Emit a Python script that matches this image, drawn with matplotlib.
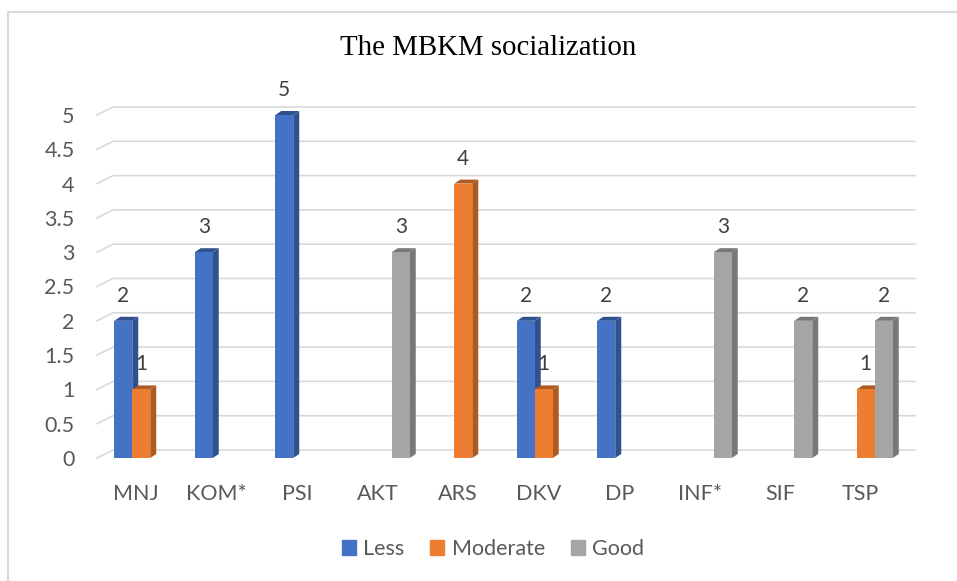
import matplotlib.pyplot as plt
from matplotlib.patches import Polygon, Patch
from matplotlib.lines import Line2D
import matplotlib.transforms as mtransforms

# data
categories = ['MNJ', 'KOM*', 'PSI', 'AKT', 'ARS', 'DKV', 'DP', 'INF*', 'SIF', 'TSP']
less = [2, 3, 5, 0, 0, 2, 2, 0, 0, 0]
moderate = [1, 0, 0, 0, 4, 1, 0, 0, 0, 1]
good = [0, 0, 0, 3, 0, 0, 0, 3, 2, 2]

series = [('Less', less, '#4472C4', '#2F528F'),
          ('Moderate', moderate, '#ED7D31', '#AE5A21'),
          ('Good', good, '#A5A5A5', '#787878')]

W, H = 957, 581
fig = plt.figure(figsize=(W / 100, H / 100), dpi=100)
plt.rcParams['font.family'] = ['Lato', 'DejaVu Sans']

# plot area (front plane) in pixels
left_px, right_px, bot_px, top_px = 101, 906, 458, 115
ax = fig.add_axes([left_px / W, 1 - bot_px / H, (right_px - left_px) / W, (bot_px - top_px) / H])
ax.set_xlim(-0.5, len(categories) - 0.5)
ax.set_ylim(0, 5)
for s in ax.spines.values():
    s.set_visible(False)

px_x = (len(categories)) / (right_px - left_px)   # data units per pixel in x
px_y = 5 / (bot_px - top_px)

# back wall gridlines with short floor/side diagonals
gdx, gdy = 16 * px_x, 8 * px_y
x_front = -0.5 - 4 * px_x
x_end = -0.5 + 814 * px_x
for k in range(11):
    v = k * 0.5
    ax.add_line(Line2D([x_front, x_front + gdx, x_end], [v, v + gdy, v + gdy],
                       color='#d9d9d9', lw=1.2, clip_on=False, zorder=1))

bw = 18 * px_x
ddx, ddy = 6 * px_x, 4 * px_y
z = 2
for i in range(len(categories)):
    for j, (name, vals, col, dark) in enumerate(series):
        v = vals[i]
        if v <= 0:
            continue
        xc = i + (j - 1) * bw
        x0, x1 = xc - bw / 2, xc + bw / 2
        ax.add_patch(Polygon([(x1, 0), (x1 + ddx, ddy), (x1 + ddx, v + ddy), (x1, v)],
                             closed=True, fc=dark, ec='none', zorder=z, clip_on=False))
        ax.add_patch(Polygon([(x0, v), (x0 + ddx, v + ddy), (x1 + ddx, v + ddy), (x1, v)],
                             closed=True, fc=dark, ec='none', zorder=z, clip_on=False))
        ax.bar(xc, v, width=bw, color=col, zorder=z + 0.5, clip_on=False)
        ax.annotate(str(v), (xc, v), xytext=(0, 18), textcoords='offset points',
                    ha='center', va='center', fontsize=15, color='#404040', zorder=10)
        z += 1

ax.set_xticks(range(len(categories)))
ax.set_xticklabels(categories)
ax.set_yticks([k * 0.5 for k in range(11)])
ax.set_yticklabels(['0', '0.5', '1', '1.5', '2', '2.5', '3', '3.5', '4', '4.5', '5'])
ax.tick_params(axis='x', length=0, pad=19, labelsize=15.5, labelcolor='#595959')
ax.tick_params(axis='y', length=0, pad=19, labelsize=15.5, labelcolor='#595959')
shift = mtransforms.ScaledTranslation(-5 / 100, 0, fig.dpi_scale_trans)
for lab in ax.get_xticklabels():
    lab.set_transform(lab.get_transform() + shift)

fig.text(488 / W, 1 - 48 / H, 'The MBKM socialization', ha='center', va='center',
         fontsize=20.8, family='Liberation Serif', color='black')

handles = [Patch(color=c, label=n) for n, _, c, _ in series]
fig.legend(handles=handles, loc='center', bbox_to_anchor=(493 / W, 1 - 549 / H), ncol=3,
           frameon=False, fontsize=15.5, labelcolor='#595959', handlelength=0.65,
           handleheight=0.65, handletextpad=0.35, columnspacing=1.2)

# chart border (left and top visible)
fig.add_artist(Line2D([8 / W, 8 / W, 1], [0, 1 - 12 / H, 1 - 12 / H],
                      transform=fig.transFigure, color='#d9d9d9', lw=1.5))

fig.savefig('out.png', dpi=100)
